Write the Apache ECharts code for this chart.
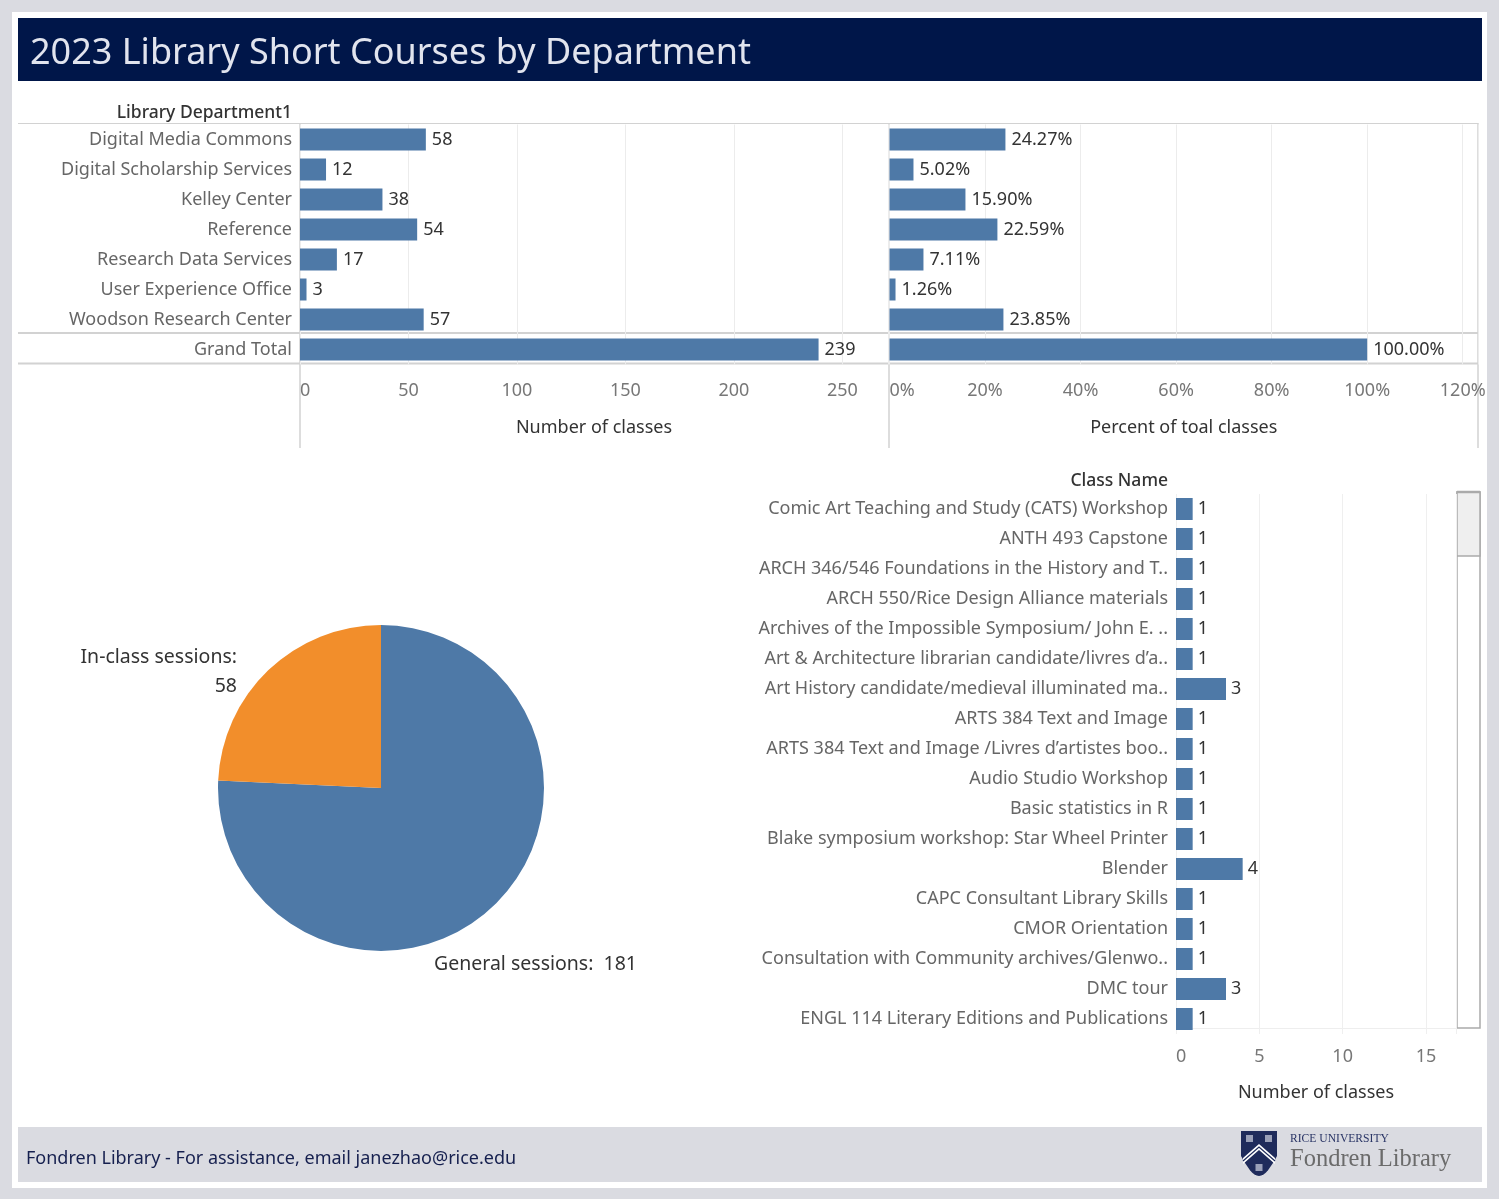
<!DOCTYPE html>
<html>
<head>
<meta charset="utf-8">
<script src="https://cdn.jsdelivr.net/npm/echarts@6/dist/echarts.min.js"></script>
<style>
  html, body { margin: 0; padding: 0; background: #dadbe1; }
  #card { position: absolute; left: 12px; top: 12px; width: 1475px; height: 1176px; background: #ffffff; }
  #c { position: absolute; left: 0; top: 0; width: 1499px; height: 1199px; }
</style>
</head>
<body>
<div id="card"></div>
<div id="c"></div>
<script>
// ---------- data ----------
const departments = [
  'Digital Media Commons',
  'Digital Scholarship Services',
  'Kelley Center',
  'Reference',
  'Research Data Services',
  'User Experience Office',
  'Woodson Research Center',
  'Grand Total'
];
const deptClasses = [58, 12, 38, 54, 17, 3, 57, 239];
const deptPercent = [24.27, 5.02, 15.90, 22.59, 7.11, 1.26, 23.85, 100.00];

const classNames = [
  'Comic Art Teaching and Study (CATS) Workshop',
  'ANTH 493 Capstone',
  'ARCH 346/546 Foundations in the History and T..',
  'ARCH 550/Rice Design Alliance materials',
  'Archives of the Impossible Symposium/ John E. ..',
  'Art & Architecture librarian candidate/livres d\u2019a..',
  'Art History candidate/medieval illuminated ma..',
  'ARTS 384 Text and Image',
  'ARTS 384 Text and Image /Livres d\u2019artistes boo..',
  'Audio Studio Workshop',
  'Basic statistics in R',
  'Blake symposium workshop: Star Wheel Printer',
  'Blender',
  'CAPC Consultant Library Skills',
  'CMOR Orientation',
  'Consultation with Community archives/Glenwo..',
  'DMC tour',
  'ENGL 114 Literary Editions and Publications'
];
const classCounts = [1, 1, 1, 1, 1, 1, 3, 1, 1, 1, 1, 1, 4, 1, 1, 1, 3, 1];

const sessionTypes = ['General sessions', 'In-class sessions'];
const sessionCounts = [181, 58];

// ---------- style ----------
const FONT = '"Noto Sans", "Open Sans", sans-serif';
const FS = 18;
const BLUE = '#4e79a7';
const ORANGE = '#f28e2b';
const LINE = '#d2d2d2';

const chart = echarts.init(document.getElementById('c'), null, { renderer: 'canvas' });

function hLine(x1, x2, y, w, c) {
  return { type: 'line', shape: { x1: x1, y1: y, x2: x2, y2: y }, style: { stroke: c || LINE, lineWidth: w }, silent: true };
}
function vLine(x, y1, y2, w, c) {
  return { type: 'line', shape: { x1: x, y1: y1, x2: x, y2: y2 }, style: { stroke: c || LINE, lineWidth: w }, silent: true };
}

// shield outline (logo decoration)
const shieldPts = [[0, 0], [36, 0], [36, 25]];
for (let k = 1; k <= 8; k++) {
  const t = k / 8;
  shieldPts.push([36 - 18 * t, 25 + 20 * Math.sin(t * Math.PI / 2)]);
}
for (let k = 7; k >= 0; k--) {
  const t = k / 8;
  shieldPts.push([18 * t, 25 + 20 * Math.sin(t * Math.PI / 2)]);
}

const catAxisCommon = {
  type: 'category',
  inverse: true,
  axisLine: { show: false },
  axisTick: { show: false },
  splitLine: { show: false }
};

const option = {
  backgroundColor: 'transparent',
  animation: false,
  textStyle: { fontFamily: FONT },
  grid: [
    { left: 300, top: 124.5, width: 588, height: 240 },
    { left: 889.5, top: 124.5, width: 588.5, height: 240 },
    { left: 1176, top: 494, width: 280, height: 540 }
  ],
  xAxis: [
    {
      gridIndex: 0, type: 'value', min: 0, max: 271, interval: 50,
      axisLine: { show: false }, axisTick: { show: false },
      splitLine: { show: true, lineStyle: { color: '#ececec', width: 1 } },
      axisLabel: { color: '#777', fontSize: FS, margin: 17, fontFamily: FONT, alignMinLabel: 'left', showMaxLabel: false },
      name: 'Number of classes', nameLocation: 'middle', nameGap: 54,
      nameTextStyle: { color: '#333', fontSize: FS, fontFamily: FONT }
    },
    {
      gridIndex: 1, type: 'value', min: 0, max: 123.2, interval: 20,
      axisLine: { show: false }, axisTick: { show: false },
      splitLine: { show: true, lineStyle: { color: '#ececec', width: 1 } },
      axisLabel: { color: '#777', fontSize: FS, margin: 17, fontFamily: FONT, formatter: '{value}%', alignMinLabel: 'left', showMaxLabel: false },
      name: 'Percent of toal classes', nameLocation: 'middle', nameGap: 54,
      nameTextStyle: { color: '#333', fontSize: FS, fontFamily: FONT }
    },
    {
      gridIndex: 2, type: 'value', min: 0, max: 16.8, interval: 5,
      axisLine: { show: false }, axisTick: { show: false },
      splitLine: { show: true, lineStyle: { color: '#efefef', width: 1 } },
      axisLabel: { color: '#777', fontSize: FS, margin: 14, fontFamily: FONT, alignMinLabel: 'left', showMaxLabel: false },
      name: 'Number of classes', nameLocation: 'middle', nameGap: 50,
      nameTextStyle: { color: '#333', fontSize: FS, fontFamily: FONT }
    }
  ],
  yAxis: [
    Object.assign({}, catAxisCommon, {
      gridIndex: 0, data: departments,
      axisLabel: { color: '#666', fontSize: FS, margin: 8, fontFamily: FONT }
    }),
    Object.assign({}, catAxisCommon, {
      gridIndex: 1, data: departments,
      axisLabel: { show: false }
    }),
    Object.assign({}, catAxisCommon, {
      gridIndex: 2, data: classNames,
      axisLabel: { color: '#666', fontSize: FS, margin: 8, fontFamily: FONT }
    })
  ],
  series: [
    {
      type: 'bar', xAxisIndex: 0, yAxisIndex: 0, data: deptClasses, barWidth: 22,
      itemStyle: { color: BLUE },
      label: { show: true, position: 'right', distance: 6, color: '#333', fontSize: FS, fontFamily: FONT }
    },
    {
      type: 'bar', xAxisIndex: 1, yAxisIndex: 1, data: deptPercent, barWidth: 22,
      itemStyle: { color: BLUE },
      label: {
        show: true, position: 'right', distance: 6, color: '#333', fontSize: FS, fontFamily: FONT,
        formatter: function (p) { return p.value.toFixed(2) + '%'; }
      }
    },
    {
      type: 'bar', xAxisIndex: 2, yAxisIndex: 2, data: classCounts, barWidth: 22,
      itemStyle: { color: BLUE },
      label: { show: true, position: 'right', distance: 5, color: '#333', fontSize: FS, fontFamily: FONT }
    },
    {
      type: 'pie',
      center: [381, 788],
      radius: 163,
      startAngle: 90,
      clockwise: true,
      data: sessionTypes.map(function (n, i) { return { name: n, value: sessionCounts[i] }; }),
      itemStyle: { color: function (p) { return p.dataIndex === 0 ? BLUE : ORANGE; } },
      label: {
        show: true, color: '#333', fontSize: 19.5, fontFamily: FONT, lineHeight: 29,
        formatter: function (p) {
          return p.dataIndex === 1 ? (p.name + ':\n' + p.value) : (p.name + ':  ' + p.value);
        }
      },
      labelLine: { show: false },
      labelLayout: function (params) {
        if (params.dataIndex === 1) {
          return { x: 237, y: 672, align: 'right', verticalAlign: 'middle' };
        }
        return { x: 434, y: 964, align: 'left', verticalAlign: 'middle' };
      },
      emphasis: { disabled: true }
    }
  ],
  graphic: [
    // title bar
    { type: 'rect', shape: { x: 18, y: 18, width: 1464, height: 63 }, style: { fill: '#001649' }, silent: true },
    { type: 'text', x: 30, y: 54, style: { text: '2023 Library Short Courses by Department', fill: '#e1e4ee', font: '36px ' + FONT, textVerticalAlign: 'middle' }, silent: true },
    // top table headers and frame
    { type: 'text', x: 292, y: 113, style: { text: 'Library Department1', fill: '#333', font: '500 17.5px ' + FONT, textAlign: 'right', textVerticalAlign: 'middle' }, silent: true },
    hLine(18, 1478, 123.5, 1),
    hLine(18, 1478, 333, 2),
    hLine(18, 1478, 363.5, 2),
    vLine(300, 123, 448, 1.5),
    vLine(889, 123, 448, 1.5),
    vLine(1478, 123, 448, 1.5),
    // bottom right header and frame
    { type: 'text', x: 1168, y: 481, style: { text: 'Class Name', fill: '#333', font: '500 17.5px ' + FONT, textAlign: 'right', textVerticalAlign: 'middle' }, silent: true },
    hLine(1176, 1457, 1028.5, 1, '#eeeeee'),
    // scrollbar
    { type: 'rect', shape: { x: 1457, y: 492, width: 23, height: 536 }, style: { fill: '#ffffff', stroke: '#aaaaaa', lineWidth: 1.5 }, silent: true },
    { type: 'rect', shape: { x: 1457, y: 492, width: 23, height: 64 }, style: { fill: '#efefef', stroke: '#aaaaaa', lineWidth: 1.5 }, silent: true },
    hLine(1457, 1480, 492, 2.5, '#aaaaaa'),
    // footer
    { type: 'rect', shape: { x: 18, y: 1127, width: 1464, height: 55 }, style: { fill: '#dadbe1' }, silent: true },
    { type: 'text', x: 26, y: 1159, style: { text: 'Fondren Library - For assistance, email janezhao@rice.edu', fill: '#16204f', font: '18px ' + FONT, textVerticalAlign: 'middle' }, silent: true },
    // logo shield
    {
      type: 'group', x: 1241, y: 1131, silent: true,
      children: [
        { type: 'polygon', shape: { points: shieldPts }, style: { fill: '#1f2b5b' } },
        { type: 'polygon', shape: { points: [[2, 27], [18, 13], [34, 27], [34, 33], [18, 19], [2, 33]] }, style: { fill: '#ffffff' } },
        { type: 'polyline', shape: { points: [[2, 30], [18, 16], [34, 30]] }, style: { stroke: '#1f2b5b', lineWidth: 1.2, fill: null } },
        { type: 'rect', shape: { x: 5, y: 4, width: 7, height: 7 }, style: { fill: '#9aa0b8' } },
        { type: 'rect', shape: { x: 24, y: 4, width: 7, height: 7 }, style: { fill: '#9aa0b8' } },
        { type: 'rect', shape: { x: 14.5, y: 33, width: 7, height: 7 }, style: { fill: '#9aa0b8' } }
      ]
    },
    { type: 'text', x: 1290, y: 1139, style: { text: 'RICE UNIVERSITY', fill: '#2a3566', font: '11.6px "Liberation Serif", "DejaVu Serif", serif', textVerticalAlign: 'middle' }, silent: true },
    { type: 'text', x: 1290, y: 1160, style: { text: 'Fondren Library', fill: '#6b6b6b', font: '24.5px "Liberation Serif", "DejaVu Serif", serif', textVerticalAlign: 'middle' }, silent: true }
  ]
};

chart.setOption(option);
</script>
</body>
</html>
